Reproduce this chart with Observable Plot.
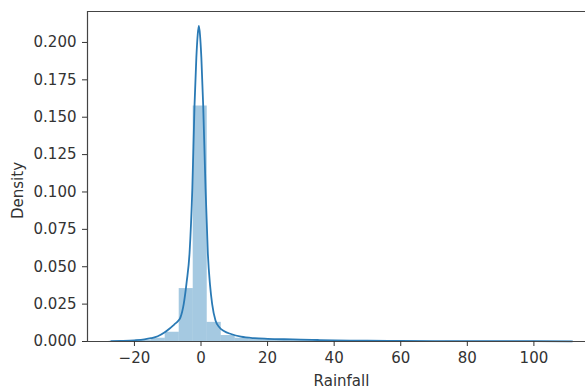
<!DOCTYPE html>
<html>
<head>
<meta charset="utf-8">
<script src="https://cdn.jsdelivr.net/npm/d3@7"></script>
<script src="https://cdn.jsdelivr.net/npm/@observablehq/plot@0.6"></script>
<style>
  html, body { margin: 0; padding: 0; background: #fff; }
</style>
</head>
<body>
<div id="chart"></div>
<script>
// Histogram bin edges (Rainfall) and densities
const binEdges = [-27.6, -23.39, -19.18, -14.97, -10.76, -6.55, -2.34, 1.87, 6.08, 10.29, 14.5, 18.71,
  22.92, 27.13, 31.34, 35.55, 39.76, 43.97, 48.18, 52.39, 56.6, 60.81, 65.02, 69.23, 73.44,
  77.65, 81.86, 86.07, 90.28, 94.49, 98.7, 102.91, 107.12, 111.33];
const binDensity = [0.0002, 0.0003, 0.0008, 0.0022, 0.0062, 0.0354, 0.1575, 0.0128, 0.0040, 0.0022,
  0.0016, 0.0013, 0.0011, 0.0009, 0.0007, 0.0004, 0.0003, 0.0002, 0.0002, 0.0002, 0.0001,
  0.0002, 0.0001, 0.0001, 0.0002, 0.0001, 0.0001, 0.0001, 0.0001, 0.0001, 0.0001, 0.0001, 0.0001];

// KDE curve
const kdeX = [-27, -24, -20, -17, -15, -13, -11, -9.5, -8, -7, -6.2, -5.2, -4.3, -3.45, -2.6, -1.95,
  -1.4, -1.0, -0.65, -0.3, 0.1, 0.65, 1.35, 2.05, 2.7, 3.35, 4.35, 5.5, 7, 9, 12, 16, 20, 25, 30,
  35, 40, 50, 60, 70, 80, 90, 100, 111.5];
const kdeY = [0.0002, 0.0004, 0.0008, 0.0014, 0.0022, 0.0035, 0.006, 0.0085, 0.0115, 0.0135, 0.016,
  0.025, 0.040, 0.059, 0.103, 0.158, 0.19, 0.205, 0.211, 0.205, 0.19, 0.158, 0.103, 0.059, 0.038,
  0.025, 0.014, 0.0095, 0.0068, 0.005, 0.0032, 0.0022, 0.0018, 0.0015, 0.0013, 0.0010, 0.0007,
  0.0005, 0.0004, 0.0003, 0.0003, 0.0002, 0.0002, 0.0001];

// Axis ticks and labels
const xTicks = [-20, 0, 20, 40, 60, 80, 100];
const yTicks = [0, 0.025, 0.05, 0.075, 0.1, 0.125, 0.15, 0.175, 0.2];
const xDomain = [-34.1, 115.5];
const yDomain = [0, 0.2207];
const xLabel = "Rainfall";
const yLabel = "Density";

const bins = binDensity.map((d, i) => ({x1: binEdges[i], x2: binEdges[i + 1], y: d}));
const kde = kdeX.map((x, i) => ({x, y: kdeY[i]}));

const chart = Plot.plot({
  width: 585,
  height: 391,
  marginLeft: 87,
  marginRight: 0,
  marginTop: 11,
  marginBottom: 50,
  style: {fontFamily: "DejaVu Sans", fontSize: "15px", color: "#333", background: "#fff"},
  x: {domain: xDomain, label: null},
  y: {domain: yDomain, label: null},
  marks: [
    Plot.rectY(bins, {x1: "x1", x2: "x2", y: "y", fill: "#1f77b4", fillOpacity: 0.4}),
    Plot.line(kde, {x: "x", y: "y", stroke: "#2a7ab5", strokeWidth: 1.8, curve: "monotone-x"}),
    Plot.ruleY([yDomain[0]], {stroke: "#444", strokeWidth: 1.2}),
    Plot.ruleY([yDomain[1]], {stroke: "#444", strokeWidth: 1.2}),
    Plot.ruleX([xDomain[0]], {stroke: "#444", strokeWidth: 1.2}),
    Plot.axisX({ticks: xTicks, tickSize: 5, tickPadding: 6, label: null, fontSize: 15}),
    Plot.axisY({ticks: yTicks, tickFormat: d3.format(".3f"), tickSize: 5, tickPadding: 6, label: null, fontSize: 15}),
    Plot.text([yLabel], {frameAnchor: "left", textAnchor: "middle", lineAnchor: "middle", rotate: -90, dx: -69, dy: 14, fontSize: 15}),
    Plot.text([xLabel], {frameAnchor: "bottom", textAnchor: "middle", lineAnchor: "middle", dx: 5, dy: 40, fontSize: 15})
  ]
});
document.getElementById("chart").appendChild(chart);
</script>
</body>
</html>
